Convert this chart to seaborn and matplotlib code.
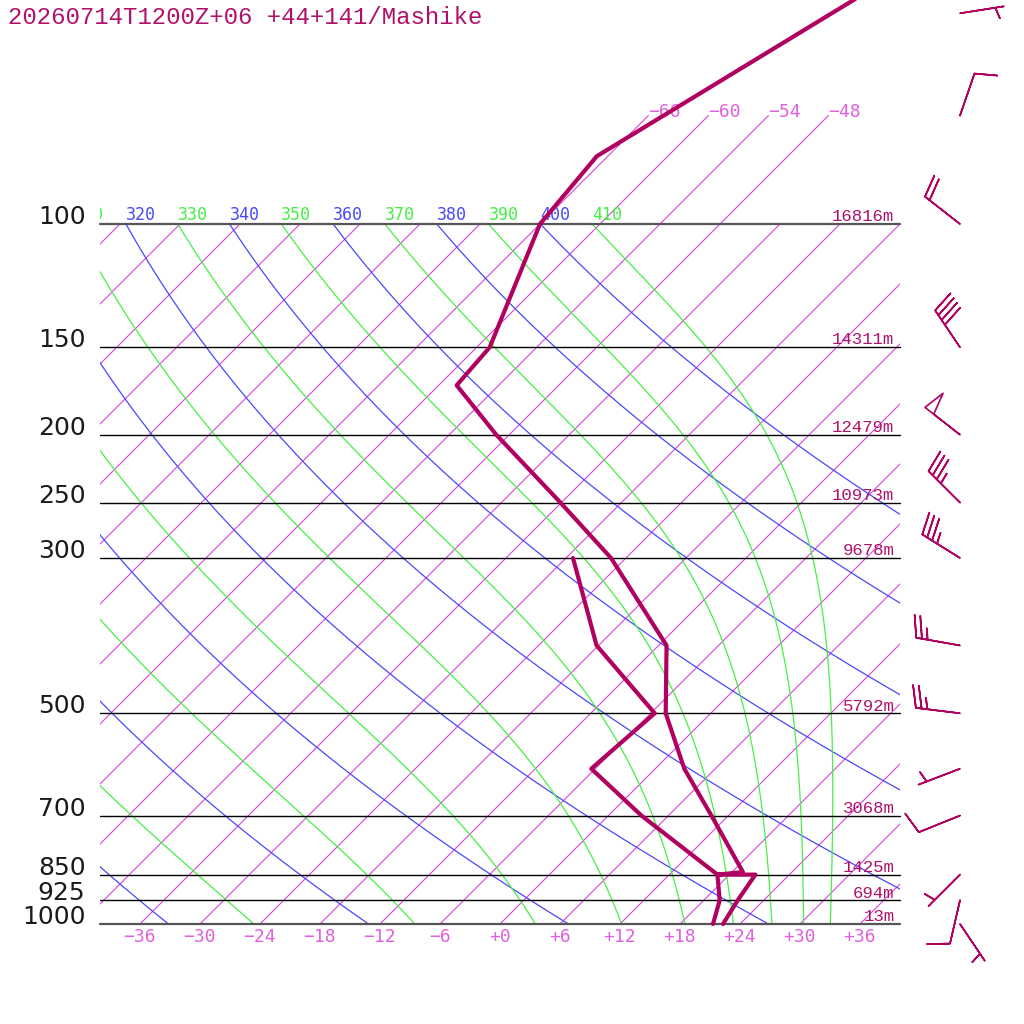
import numpy as np
import pandas as pd
import matplotlib
matplotlib.use('Agg')
import matplotlib.pyplot as plt
from matplotlib.patches import Rectangle
import seaborn as sns

title = '20260714T1200Z+06 +44+141/Mashike'

# temperature profile (hPa, degC)
temp_p = [40, 50, 80, 100, 150, 170, 200, 250, 300, 400, 500, 600, 700, 843, 850, 850, 925, 1000]
temp_t = [-53.5, -57.9, -67.1, -66.0, -58.7, -58.2, -49.3, -36.1, -25.5, -11.2, -4.5, 2.9, 10.3, 19.1, 16.8, 20.6, 21.4, 22.3]
# dew point profile
dew_p = [300, 400, 500, 600, 700, 850, 925, 1000]
dew_t = [-29.3, -18.2, -5.6, -6.4, 3.3, 16.8, 19.6, 21.3]

# standard levels and heights
levels = [100, 150, 200, 250, 300, 500, 700, 850, 925, 1000]
heights = [16816, 14311, 12479, 10973, 9678, 5792, 3068, 1425, 694, 13]

# winds (hPa, direction deg, knots)
wind_p = [50, 70, 100, 150, 200, 250, 300, 400, 500, 600, 700, 850, 925, 1000]
wind_dir = [81, 19, 308, 326, 308, 315, 302, 280, 277, 249, 248, 225, 193, 146]
wind_kt = [5, 10, 20, 40, 50, 35, 35, 25, 25, 5, 10, 5, 10, 5]

isotherms = list(range(-120, 37, 6))
upper_isotherms = [-66, -60, -54, -48]
temp_ticks = list(range(-36, 37, 6))
dry_thetas = list(range(200, 401, 20))
moist_thetas = list(range(210, 411, 20))

PROFILE = '#b00060'
SKEW = 30.4  # degC per ln(p) unit -> 45 degree skew


def skx(t, p):
    return np.asarray(t, float) + SKEW * np.log(1000.0 / np.asarray(p, float))


def moist_adiabat(t_start, ps):
    rd, cp, lv, eps = 287.04, 1005.7, 2.501e6, 0.622

    def dtdp(t, p):
        tc = t - 273.15
        es = 6.112 * np.exp(17.67 * tc / (tc + 243.5))
        rs = eps * es / (p - es)
        return (rd * t + lv * rs) / (cp + lv ** 2 * rs * eps / (rd * t ** 2)) / p

    out = [t_start]
    t = t_start
    for p0, p1 in zip(ps[:-1], ps[1:]):
        h = p1 - p0
        k1 = dtdp(t, p0)
        k2 = dtdp(t + h * k1 / 2, p0 + h / 2)
        k3 = dtdp(t + h * k2 / 2, p0 + h / 2)
        k4 = dtdp(t + h * k3, p1)
        t = t + h * (k1 + 2 * k2 + 2 * k3 + k4) / 6
        out.append(t)
    return np.array(out)


def main():
    sns.set_style('white')
    fig = plt.figure(figsize=(10.24, 10.24), dpi=100)
    ax = fig.add_axes([0, 0, 1, 1])
    ax.set_yscale('log')
    ax.set_xlim(-50, 52.4)
    p_top = 1000 * np.exp(-924 / 304)
    p_bot = 1000 * np.exp(100 / 304)
    ax.set_ylim(p_bot, p_top)
    ax.axis('off')

    box = Rectangle((-40, 100), 80, 900, transform=ax.transData, fill=False, lw=0)
    lab_box = Rectangle((-40, 40), 90, 70, transform=ax.transData, fill=False, lw=0)

    ps = np.linspace(100, 1000, 400)

    # isotherms
    for t in isotherms:
        ln, = ax.plot(skx([t, t], [100, 1000]), [100, 1000], color='#dd44dd', lw=0.8)
        ln.set_clip_path(box)
    for t in upper_isotherms:
        ax.plot(skx([t, t], [70, 100]), [70, 100], color='#dd44dd', lw=0.8)
        ax.annotate(f'{t:+d}'.replace('-', '\u2212'), (skx(t, 70), 70), xytext=(0, -1),
                    textcoords='offset points', ha='left', va='baseline',
                    family='DejaVu Sans Mono', fontsize=13, color='#e060e0')

    # dry adiabats
    for th in dry_thetas:
        tt = th * (ps / 1000.0) ** 0.2857 - 273.15
        ln, = ax.plot(skx(tt, ps), ps, color='#4848ff', lw=0.9)
        ln.set_clip_path(box)

    # moist adiabats
    for th in moist_thetas:
        tt = moist_adiabat(th * 0.1 ** 0.2857, ps) - 273.15
        ln, = ax.plot(skx(tt, ps), ps, color='#44f044', lw=0.9)
        ln.set_clip_path(box)

    # theta labels along 100 hPa
    for th in range(310, 411, 10):
        x = skx(th * 0.1 ** 0.2857 - 273.15, 100)
        col = '#44f044' if th % 20 else '#4848ff'
        tx = ax.annotate(str(th), (x, 100), xytext=(0, 3), textcoords='offset points',
                         ha='left', va='baseline', family='DejaVu Sans Mono',
                         fontsize=12, color=col)
        tx.set_clip_path(lab_box)

    # pressure lines and labels
    for p, z in zip(levels, heights):
        edge = p in (100, 1000)
        ax.plot([-40, 40], [p, p], color='#555555' if edge else 'black',
                lw=1.6 if edge else 1.0)
        ax.annotate(str(p), (-40, p), xytext=(-10.5, 0), textcoords='offset points',
                    ha='right', va='baseline', family='DejaVu Sans', fontsize=18,
                    color='#1a1a1a')
        ax.annotate(f'{z}m', (40, p), xytext=(-4, 2), textcoords='offset points',
                    ha='right', va='baseline', family='Liberation Mono', fontsize=12.5,
                    color='#b0106a')

    # temperature ticks at the bottom
    for t in temp_ticks:
        ax.annotate(f'{t:+d}'.replace('-', '\u2212'), (skx(t, 1000), 1000), xytext=(0, -9),
                    textcoords='offset points', ha='center', va='center',
                    family='DejaVu Sans Mono', fontsize=13, color='#e060e0')

    # profiles
    df_t = pd.DataFrame({'x': skx(temp_t, temp_p), 'p': temp_p})
    df_d = pd.DataFrame({'x': skx(dew_t, dew_p), 'p': dew_p})
    sns.lineplot(data=df_t, x='x', y='p', sort=False, estimator=None, color=PROFILE,
                 lw=3, ax=ax, legend=False, zorder=5)
    sns.lineplot(data=df_d, x='x', y='p', sort=False, estimator=None, color=PROFILE,
                 lw=3, ax=ax, legend=False, zorder=5)

    # wind barbs
    d = np.radians(wind_dir)
    spd = np.array(wind_kt, float)
    u = -spd * np.sin(d)
    v = -spd * np.cos(d)
    ax.barbs(np.full(len(wind_p), 46.0), wind_p, u, v, length=8, pivot='tip',
             barbcolor=PROFILE, flagcolor='none', linewidth=1.2,
             sizes=dict(spacing=0.13, height=0.5, width=0.25))

    ax.set_xlim(-50, 52.4)
    ax.set_ylim(p_bot, p_top)
    ax.axis('off')

    fig.text(8 / 1024, 1 - 24 / 1024, title, va='baseline', ha='left',
             family='Liberation Mono', fontsize=17.3, color='#b0106a')

    fig.savefig('out.png', dpi=100)


if __name__ == '__main__':
    main()
